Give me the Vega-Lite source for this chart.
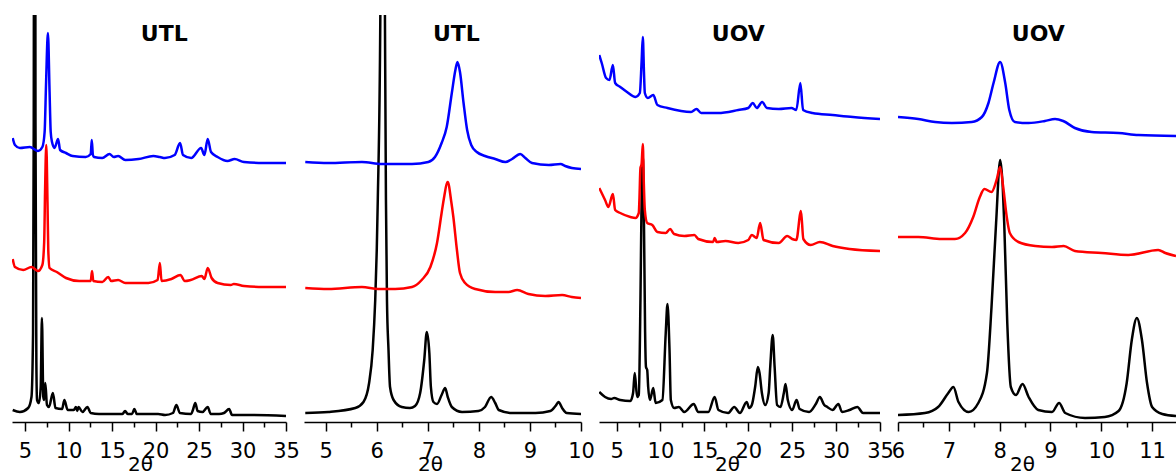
{
 "$schema": "https://vega.github.io/schema/vega-lite/v6.json",
 "padding": {"left": 12, "top": 15, "right": 0, "bottom": 0},
 "background": "white",
 "spacing": 18,
 "bounds": "flush",
 "config": {
  "view": {"stroke": null},
  "axis": {"domainColor": "#000", "domainWidth": 1.5, "tickColor": "#000", "tickWidth": 1.5, "labelFont": "DejaVu Sans", "labelFontSize": 21, "labelColor": "#000", "titleFont": "DejaVu Sans", "titleFontSize": 20, "titleFontWeight": "normal", "titleColor": "#000", "labelPadding": 9, "titlePadding": -7, "labelOverlap": false, "labelFlush": false, "labelBound": false, "grid": false, "tickSize": 9},
  "line": {"interpolate": "monotone"}
 },
 "datasets": {
  "p1": [
   {"x":3.58,"y":12,"s":"k"},{"x":4.41,"y":10,"s":"k"},{"x":5.36,"y":14,"s":"k"},{"x":5.74,"y":25,"s":"k"},{"x":5.92,"y":89,"s":"k"},{"x":6.0,"y":300,"s":"k"},{"x":6.1,"y":1200,"s":"k"},{"x":6.2,"y":300,"s":"k"},{"x":6.3,"y":60,"s":"k"},{"x":6.38,"y":22,"s":"k"},{"x":6.6,"y":19,"s":"k"},{"x":6.8,"y":35,"s":"k"},{"x":6.94,"y":104,"s":"k"},{"x":7.1,"y":25,"s":"k"},{"x":7.2,"y":22,"s":"k"},{"x":7.33,"y":39,"s":"k"},{"x":7.52,"y":17,"s":"k"},{"x":7.75,"y":15,"s":"k"},{"x":8.2,"y":29,"s":"k"},{"x":8.5,"y":14,"s":"k"},{"x":9.26,"y":13,"s":"k"},{"x":9.52,"y":22,"s":"k"},{"x":9.9,"y":12,"s":"k"},{"x":10.6,"y":12,"s":"k"},{"x":10.85,"y":15,"s":"k"},{"x":11.0,"y":11,"s":"k"},{"x":11.15,"y":15,"s":"k"},{"x":11.6,"y":10,"s":"k"},{"x":12.17,"y":15,"s":"k"},{"x":12.55,"y":9,"s":"k"},{"x":13.5,"y":8,"s":"k"},{"x":15.4,"y":8,"s":"k"},{"x":16.2,"y":8,"s":"k"},{"x":16.5,"y":11,"s":"k"},{"x":16.8,"y":8,"s":"k"},{"x":17.3,"y":8,"s":"k"},{"x":17.56,"y":13,"s":"k"},{"x":17.85,"y":8,"s":"k"},{"x":19.2,"y":8,"s":"k"},{"x":20.3,"y":8,"s":"k"},{"x":21.1,"y":7,"s":"k"},{"x":22.0,"y":9,"s":"k"},{"x":22.4,"y":17,"s":"k"},{"x":22.8,"y":9,"s":"k"},{"x":24.1,"y":8,"s":"k"},{"x":24.3,"y":12,"s":"k"},{"x":24.57,"y":19,"s":"k"},{"x":24.84,"y":11,"s":"k"},{"x":25.4,"y":10,"s":"k"},{"x":26.0,"y":15,"s":"k"},{"x":26.35,"y":8,"s":"k"},{"x":27.3,"y":8,"s":"k"},{"x":27.87,"y":9,"s":"k"},{"x":28.46,"y":13,"s":"k"},{"x":28.8,"y":7,"s":"k"},{"x":30.9,"y":7,"s":"k"},{"x":35,"y":6,"s":"k"},
   {"x":3.58,"y":163,"s":"r"},{"x":3.84,"y":155,"s":"r"},{"x":4.79,"y":152,"s":"r"},{"x":5.74,"y":155,"s":"r"},{"x":6.49,"y":151,"s":"r"},{"x":6.99,"y":157,"s":"r"},{"x":7.2,"y":180,"s":"r"},{"x":7.3,"y":230,"s":"r"},{"x":7.44,"y":277,"s":"r"},{"x":7.58,"y":220,"s":"r"},{"x":7.67,"y":172,"s":"r"},{"x":7.82,"y":154,"s":"r"},{"x":8.65,"y":150,"s":"r"},{"x":9.71,"y":144,"s":"r"},{"x":11.23,"y":141,"s":"r"},{"x":12.55,"y":141,"s":"r"},{"x":12.7,"y":151,"s":"r"},{"x":12.85,"y":141,"s":"r"},{"x":13.88,"y":140,"s":"r"},{"x":14.56,"y":145,"s":"r"},{"x":14.9,"y":141,"s":"r"},{"x":15.7,"y":142,"s":"r"},{"x":16.53,"y":139,"s":"r"},{"x":19.18,"y":139,"s":"r"},{"x":20.24,"y":142,"s":"r"},{"x":20.5,"y":159,"s":"r"},{"x":20.69,"y":141,"s":"r"},{"x":21.83,"y":143,"s":"r"},{"x":22.86,"y":147,"s":"r"},{"x":23.36,"y":141,"s":"r"},{"x":24.04,"y":142,"s":"r"},{"x":25.32,"y":146,"s":"r"},{"x":25.62,"y":143,"s":"r"},{"x":26.0,"y":154,"s":"r"},{"x":26.45,"y":144,"s":"r"},{"x":27.14,"y":139,"s":"r"},{"x":28.65,"y":137,"s":"r"},{"x":29.0,"y":138,"s":"r"},{"x":30.17,"y":136,"s":"r"},{"x":32.44,"y":135,"s":"r"},{"x":35,"y":135,"s":"r"},
   {"x":3.58,"y":284,"s":"b"},{"x":3.84,"y":277,"s":"b"},{"x":4.41,"y":274,"s":"b"},{"x":5.55,"y":275,"s":"b"},{"x":6.49,"y":271,"s":"b"},{"x":6.99,"y":275,"s":"b"},{"x":7.25,"y":290,"s":"b"},{"x":7.42,"y":340,"s":"b"},{"x":7.63,"y":389,"s":"b"},{"x":7.82,"y":330,"s":"b"},{"x":7.95,"y":290,"s":"b"},{"x":8.1,"y":280,"s":"b"},{"x":8.39,"y":274,"s":"b"},{"x":8.8,"y":283,"s":"b"},{"x":9.03,"y":272,"s":"b"},{"x":9.71,"y":269,"s":"b"},{"x":10.47,"y":266,"s":"b"},{"x":11.98,"y":265,"s":"b"},{"x":12.55,"y":268,"s":"b"},{"x":12.67,"y":282,"s":"b"},{"x":12.8,"y":267,"s":"b"},{"x":12.93,"y":265,"s":"b"},{"x":13.88,"y":264,"s":"b"},{"x":14.71,"y":268,"s":"b"},{"x":15.2,"y":265,"s":"b"},{"x":15.7,"y":266,"s":"b"},{"x":16.53,"y":262,"s":"b"},{"x":18.05,"y":263,"s":"b"},{"x":19.75,"y":266,"s":"b"},{"x":20.5,"y":265,"s":"b"},{"x":21.08,"y":264,"s":"b"},{"x":22.2,"y":267,"s":"b"},{"x":22.82,"y":279,"s":"b"},{"x":23.16,"y":267,"s":"b"},{"x":24.1,"y":264,"s":"b"},{"x":25.24,"y":274,"s":"b"},{"x":25.62,"y":267,"s":"b"},{"x":26.0,"y":283,"s":"b"},{"x":26.38,"y":270,"s":"b"},{"x":27.14,"y":265,"s":"b"},{"x":28.27,"y":261,"s":"b"},{"x":29.1,"y":263,"s":"b"},{"x":30.17,"y":260,"s":"b"},{"x":32.44,"y":259,"s":"b"},{"x":35,"y":259,"s":"b"}
  ],
  "p2": [
   {"x":4.6,"y":9,"s":"k"},{"x":5.05,"y":10,"s":"k"},{"x":5.58,"y":14,"s":"k"},{"x":5.74,"y":20,"s":"k"},{"x":5.85,"y":39,"s":"k"},{"x":5.92,"y":72,"s":"k"},{"x":5.97,"y":122,"s":"k"},{"x":6.0,"y":172,"s":"k"},{"x":6.02,"y":222,"s":"k"},{"x":6.07,"y":407,"s":"k"},{"x":6.115,"y":900,"s":"k"},{"x":6.16,"y":407,"s":"k"},{"x":6.18,"y":222,"s":"k"},{"x":6.2,"y":122,"s":"k"},{"x":6.23,"y":72,"s":"k"},{"x":6.26,"y":35,"s":"k"},{"x":6.33,"y":22,"s":"k"},{"x":6.49,"y":15,"s":"k"},{"x":6.65,"y":14,"s":"k"},{"x":6.75,"y":16,"s":"k"},{"x":6.85,"y":29,"s":"k"},{"x":6.93,"y":62,"s":"k"},{"x":6.98,"y":90,"s":"k"},{"x":7.03,"y":69,"s":"k"},{"x":7.06,"y":35,"s":"k"},{"x":7.11,"y":20,"s":"k"},{"x":7.18,"y":18,"s":"k"},{"x":7.27,"y":27,"s":"k"},{"x":7.34,"y":34,"s":"k"},{"x":7.39,"y":25,"s":"k"},{"x":7.47,"y":15,"s":"k"},{"x":7.67,"y":10,"s":"k"},{"x":7.99,"y":11,"s":"k"},{"x":8.12,"y":15,"s":"k"},{"x":8.24,"y":25,"s":"k"},{"x":8.32,"y":19,"s":"k"},{"x":8.39,"y":12,"s":"k"},{"x":8.65,"y":9,"s":"k"},{"x":9.11,"y":9,"s":"k"},{"x":9.4,"y":11,"s":"k"},{"x":9.5,"y":16,"s":"k"},{"x":9.56,"y":20,"s":"k"},{"x":9.63,"y":14,"s":"k"},{"x":9.72,"y":9,"s":"k"},{"x":10.0,"y":8,"s":"k"},
   {"x":4.6,"y":134,"s":"r"},{"x":5.05,"y":133,"s":"r"},{"x":5.71,"y":135,"s":"r"},{"x":6.03,"y":133,"s":"r"},{"x":6.36,"y":133,"s":"r"},{"x":6.69,"y":135,"s":"r"},{"x":6.88,"y":142,"s":"r"},{"x":7.05,"y":155,"s":"r"},{"x":7.18,"y":179,"s":"r"},{"x":7.27,"y":209,"s":"r"},{"x":7.31,"y":222,"s":"r"},{"x":7.39,"y":240,"s":"r"},{"x":7.46,"y":220,"s":"r"},{"x":7.5,"y":205,"s":"r"},{"x":7.57,"y":172,"s":"r"},{"x":7.63,"y":149,"s":"r"},{"x":7.73,"y":139,"s":"r"},{"x":7.93,"y":133,"s":"r"},{"x":8.32,"y":130,"s":"r"},{"x":8.58,"y":130,"s":"r"},{"x":8.75,"y":132,"s":"r"},{"x":8.97,"y":128,"s":"r"},{"x":9.3,"y":126,"s":"r"},{"x":9.63,"y":127,"s":"r"},{"x":9.82,"y":125,"s":"r"},{"x":10.0,"y":124,"s":"r"},
   {"x":4.6,"y":260,"s":"b"},{"x":5.05,"y":259,"s":"b"},{"x":5.71,"y":260,"s":"b"},{"x":6.1,"y":258,"s":"b"},{"x":6.69,"y":258,"s":"b"},{"x":7.01,"y":260,"s":"b"},{"x":7.14,"y":265,"s":"b"},{"x":7.27,"y":279,"s":"b"},{"x":7.37,"y":295,"s":"b"},{"x":7.47,"y":329,"s":"b"},{"x":7.54,"y":352,"s":"b"},{"x":7.58,"y":360,"s":"b"},{"x":7.63,"y":350,"s":"b"},{"x":7.7,"y":319,"s":"b"},{"x":7.77,"y":292,"s":"b"},{"x":7.85,"y":277,"s":"b"},{"x":7.96,"y":270,"s":"b"},{"x":8.12,"y":266,"s":"b"},{"x":8.32,"y":263,"s":"b"},{"x":8.52,"y":260,"s":"b"},{"x":8.65,"y":263,"s":"b"},{"x":8.81,"y":268,"s":"b"},{"x":8.91,"y":264,"s":"b"},{"x":9.04,"y":259,"s":"b"},{"x":9.37,"y":257,"s":"b"},{"x":9.6,"y":258,"s":"b"},{"x":9.69,"y":256,"s":"b"},{"x":9.82,"y":254,"s":"b"},{"x":10.0,"y":253,"s":"b"}
  ],
  "p3": [
   {"x":3.03,"y":30,"s":"k"},{"x":3.69,"y":25,"s":"k"},{"x":4.38,"y":23,"s":"k"},{"x":4.73,"y":24,"s":"k"},{"x":5.42,"y":22,"s":"k"},{"x":6.57,"y":21,"s":"k"},{"x":6.88,"y":29,"s":"k"},{"x":7.07,"y":49,"s":"k"},{"x":7.34,"y":25,"s":"k"},{"x":7.53,"y":27,"s":"k"},{"x":7.72,"y":122,"s":"k"},{"x":7.85,"y":222,"s":"k"},{"x":7.99,"y":265,"s":"k"},{"x":8.12,"y":200,"s":"k"},{"x":8.25,"y":90,"s":"k"},{"x":8.35,"y":55,"s":"k"},{"x":8.49,"y":52,"s":"k"},{"x":8.6,"y":35,"s":"k"},{"x":8.8,"y":22,"s":"k"},{"x":9.18,"y":34,"s":"k"},{"x":9.45,"y":19,"s":"k"},{"x":10.22,"y":22,"s":"k"},{"x":10.6,"y":89,"s":"k"},{"x":10.8,"y":118,"s":"k"},{"x":11.03,"y":72,"s":"k"},{"x":11.18,"y":22,"s":"k"},{"x":11.56,"y":14,"s":"k"},{"x":12.1,"y":15,"s":"k"},{"x":12.71,"y":10,"s":"k"},{"x":13.79,"y":18,"s":"k"},{"x":14.3,"y":10,"s":"k"},{"x":15.45,"y":10,"s":"k"},{"x":16.17,"y":25,"s":"k"},{"x":16.6,"y":12,"s":"k"},{"x":17.71,"y":9,"s":"k"},{"x":18.4,"y":15,"s":"k"},{"x":19.05,"y":9,"s":"k"},{"x":19.82,"y":20,"s":"k"},{"x":20.1,"y":14,"s":"k"},{"x":20.4,"y":17,"s":"k"},{"x":20.78,"y":35,"s":"k"},{"x":21.09,"y":55,"s":"k"},{"x":21.28,"y":49,"s":"k"},{"x":21.55,"y":29,"s":"k"},{"x":21.93,"y":17,"s":"k"},{"x":22.32,"y":29,"s":"k"},{"x":22.5,"y":55,"s":"k"},{"x":22.78,"y":87,"s":"k"},{"x":23.0,"y":55,"s":"k"},{"x":23.28,"y":17,"s":"k"},{"x":23.66,"y":15,"s":"k"},{"x":24.05,"y":29,"s":"k"},{"x":24.24,"y":38,"s":"k"},{"x":24.5,"y":22,"s":"k"},{"x":25.0,"y":12,"s":"k"},{"x":25.5,"y":22,"s":"k"},{"x":25.85,"y":13,"s":"k"},{"x":26.92,"y":10,"s":"k"},{"x":27.69,"y":18,"s":"k"},{"x":28.15,"y":25,"s":"k"},{"x":28.65,"y":17,"s":"k"},{"x":29.0,"y":15,"s":"k"},{"x":29.6,"y":12,"s":"k"},{"x":30.26,"y":18,"s":"k"},{"x":30.68,"y":10,"s":"k"},{"x":31.53,"y":12,"s":"k"},{"x":32.42,"y":15,"s":"k"},{"x":33.07,"y":9,"s":"k"},{"x":35,"y":9,"s":"k"},
   {"x":3.03,"y":234,"s":"r"},{"x":3.69,"y":222,"s":"r"},{"x":4.07,"y":215,"s":"r"},{"x":4.58,"y":228,"s":"r"},{"x":4.84,"y":212,"s":"r"},{"x":5.42,"y":209,"s":"r"},{"x":6.57,"y":205,"s":"r"},{"x":7.15,"y":204,"s":"r"},{"x":7.53,"y":209,"s":"r"},{"x":7.6,"y":222,"s":"r"},{"x":7.72,"y":254,"s":"r"},{"x":7.85,"y":258,"s":"r"},{"x":7.99,"y":278,"s":"r"},{"x":8.1,"y":240,"s":"r"},{"x":8.22,"y":212,"s":"r"},{"x":8.49,"y":199,"s":"r"},{"x":9.07,"y":197,"s":"r"},{"x":9.65,"y":190,"s":"r"},{"x":10.6,"y":189,"s":"r"},{"x":11.1,"y":193,"s":"r"},{"x":11.56,"y":188,"s":"r"},{"x":12.71,"y":186,"s":"r"},{"x":13.86,"y":187,"s":"r"},{"x":14.3,"y":183,"s":"r"},{"x":16.0,"y":180,"s":"r"},{"x":16.17,"y":184,"s":"r"},{"x":16.4,"y":180,"s":"r"},{"x":17.4,"y":181,"s":"r"},{"x":18.86,"y":179,"s":"r"},{"x":20.0,"y":182,"s":"r"},{"x":20.4,"y":187,"s":"r"},{"x":20.96,"y":184,"s":"r"},{"x":21.35,"y":199,"s":"r"},{"x":21.74,"y":182,"s":"r"},{"x":23.47,"y":179,"s":"r"},{"x":24.43,"y":186,"s":"r"},{"x":25.0,"y":183,"s":"r"},{"x":25.47,"y":182,"s":"r"},{"x":26.0,"y":211,"s":"r"},{"x":26.27,"y":183,"s":"r"},{"x":27.11,"y":177,"s":"r"},{"x":28.15,"y":180,"s":"r"},{"x":29.61,"y":176,"s":"r"},{"x":31.53,"y":173,"s":"r"},{"x":35,"y":171,"s":"r"},
   {"x":3.03,"y":367,"s":"b"},{"x":3.31,"y":359,"s":"b"},{"x":3.81,"y":344,"s":"b"},{"x":4.19,"y":342,"s":"b"},{"x":4.58,"y":357,"s":"b"},{"x":4.84,"y":339,"s":"b"},{"x":5.42,"y":335,"s":"b"},{"x":6.19,"y":330,"s":"b"},{"x":7.15,"y":325,"s":"b"},{"x":7.65,"y":329,"s":"b"},{"x":7.85,"y":360,"s":"b"},{"x":7.99,"y":385,"s":"b"},{"x":8.12,"y":350,"s":"b"},{"x":8.22,"y":329,"s":"b"},{"x":8.56,"y":324,"s":"b"},{"x":9.18,"y":327,"s":"b"},{"x":9.65,"y":317,"s":"b"},{"x":10.8,"y":314,"s":"b"},{"x":13.48,"y":310,"s":"b"},{"x":14.1,"y":313,"s":"b"},{"x":14.64,"y":309,"s":"b"},{"x":16.56,"y":309,"s":"b"},{"x":18.86,"y":312,"s":"b"},{"x":20.0,"y":314,"s":"b"},{"x":20.51,"y":319,"s":"b"},{"x":20.97,"y":314,"s":"b"},{"x":21.58,"y":320,"s":"b"},{"x":22.12,"y":314,"s":"b"},{"x":23.47,"y":313,"s":"b"},{"x":24.92,"y":314,"s":"b"},{"x":25.47,"y":312,"s":"b"},{"x":25.93,"y":339,"s":"b"},{"x":26.24,"y":312,"s":"b"},{"x":27.31,"y":309,"s":"b"},{"x":29.61,"y":307,"s":"b"},{"x":31.92,"y":305,"s":"b"},{"x":35,"y":303,"s":"b"}
  ],
  "p4": [
   {"x":6.0,"y":7,"s":"k"},{"x":6.53,"y":9,"s":"k"},{"x":6.79,"y":15,"s":"k"},{"x":6.99,"y":29,"s":"k"},{"x":7.09,"y":35,"s":"k"},{"x":7.19,"y":20,"s":"k"},{"x":7.39,"y":10,"s":"k"},{"x":7.58,"y":19,"s":"k"},{"x":7.75,"y":49,"s":"k"},{"x":7.84,"y":115,"s":"k"},{"x":7.93,"y":199,"s":"k"},{"x":8.01,"y":262,"s":"k"},{"x":8.09,"y":199,"s":"k"},{"x":8.15,"y":99,"s":"k"},{"x":8.22,"y":35,"s":"k"},{"x":8.32,"y":27,"s":"k"},{"x":8.45,"y":38,"s":"k"},{"x":8.57,"y":25,"s":"k"},{"x":8.76,"y":12,"s":"k"},{"x":9.03,"y":10,"s":"k"},{"x":9.17,"y":19,"s":"k"},{"x":9.29,"y":9,"s":"k"},{"x":9.68,"y":4,"s":"k"},{"x":10.07,"y":5,"s":"k"},{"x":10.34,"y":11,"s":"k"},{"x":10.5,"y":39,"s":"k"},{"x":10.6,"y":82,"s":"k"},{"x":10.7,"y":104,"s":"k"},{"x":10.8,"y":82,"s":"k"},{"x":10.9,"y":39,"s":"k"},{"x":11.0,"y":15,"s":"k"},{"x":11.2,"y":8,"s":"k"},{"x":11.47,"y":6,"s":"k"},
   {"x":6.0,"y":185,"s":"r"},{"x":6.4,"y":185,"s":"r"},{"x":6.86,"y":183,"s":"r"},{"x":7.12,"y":183,"s":"r"},{"x":7.32,"y":189,"s":"r"},{"x":7.48,"y":205,"s":"r"},{"x":7.61,"y":225,"s":"r"},{"x":7.7,"y":233,"s":"r"},{"x":7.84,"y":230,"s":"r"},{"x":7.94,"y":242,"s":"r"},{"x":8.01,"y":255,"s":"r"},{"x":8.07,"y":235,"s":"r"},{"x":8.14,"y":205,"s":"r"},{"x":8.2,"y":189,"s":"r"},{"x":8.37,"y":180,"s":"r"},{"x":8.7,"y":176,"s":"r"},{"x":9.03,"y":175,"s":"r"},{"x":9.26,"y":176,"s":"r"},{"x":9.48,"y":171,"s":"r"},{"x":10.01,"y":169,"s":"r"},{"x":10.53,"y":167,"s":"r"},{"x":11.12,"y":172,"s":"r"},{"x":11.26,"y":169,"s":"r"},{"x":11.47,"y":166,"s":"r"},
   {"x":6.0,"y":305,"s":"b"},{"x":6.4,"y":303,"s":"b"},{"x":6.73,"y":300,"s":"b"},{"x":7.06,"y":299,"s":"b"},{"x":7.45,"y":300,"s":"b"},{"x":7.65,"y":305,"s":"b"},{"x":7.78,"y":319,"s":"b"},{"x":7.88,"y":339,"s":"b"},{"x":8.01,"y":360,"s":"b"},{"x":8.11,"y":339,"s":"b"},{"x":8.19,"y":312,"s":"b"},{"x":8.3,"y":300,"s":"b"},{"x":8.57,"y":299,"s":"b"},{"x":8.89,"y":301,"s":"b"},{"x":9.09,"y":303,"s":"b"},{"x":9.25,"y":301,"s":"b"},{"x":9.48,"y":294,"s":"b"},{"x":9.81,"y":290,"s":"b"},{"x":10.34,"y":289,"s":"b"},{"x":10.73,"y":287,"s":"b"},{"x":11.47,"y":286,"s":"b"}
  ]
 },
 "hconcat": [
  {
   "width": 274, "height": 407,
   "resolve": {"axis": {"x": "independent"}},
   "layer": [
    {"data": {"name": "p1"}, "mark": {"type": "line", "clip": true, "strokeWidth": 2.5},
     "encoding": {
      "x": {"field": "x", "type": "quantitative", "scale": {"domain": [3.5, 35], "nice": false, "zero": false},
            "axis": {"orient": "bottom", "values": [5,10,15,20,25,30,35], "title": "2θ", "titleX": 128}},
      "y": {"field": "y", "type": "quantitative", "scale": {"domain": [0, 407], "nice": false}, "axis": null},
      "color": {"field": "s", "type": "nominal", "scale": {"domain": ["k","r","b"], "range": ["#000000","#ff0000","#0000ff"]}, "legend": null}}},
    {"data": {"name": "p1"}, "mark": {"type": "line", "clip": true, "opacity": 0, "strokeWidth": 0},
     "encoding": {
      "x": {"field": "x", "type": "quantitative", "axis": {"orient": "bottom", "values": [7.5,12.5,17.5,22.5,27.5,32.5], "labels": false, "domain": false, "tickSize": 5, "title": null}},
      "y": {"field": "y", "type": "quantitative", "axis": null},
      "detail": {"field": "s"}}},
    {"data": {"values": [{"t": "UTL"}]}, "mark": {"type": "text", "font": "DejaVu Sans", "fontSize": 22, "fontWeight": "bold", "baseline": "middle", "align": "center", "color": "#000"},
     "encoding": {"text": {"field": "t"}, "x": {"datum": 21.0, "axis": null}, "y": {"datum": 388, "axis": null}}}
   ]
  },
  {
   "width": 277, "height": 407,
   "resolve": {"axis": {"x": "independent"}},
   "layer": [
    {"data": {"name": "p2"}, "mark": {"type": "line", "clip": true, "strokeWidth": 2.5},
     "encoding": {
      "x": {"field": "x", "type": "quantitative", "scale": {"domain": [4.575, 10], "nice": false, "zero": false},
            "axis": {"orient": "bottom", "values": [5,6,7,8,9,10], "title": "2θ", "titleX": 126}},
      "y": {"field": "y", "type": "quantitative", "scale": {"domain": [0, 407], "nice": false}, "axis": null},
      "color": {"field": "s", "type": "nominal", "scale": {"domain": ["k","r","b"], "range": ["#000000","#ff0000","#0000ff"]}, "legend": null}}},
    {"data": {"name": "p2"}, "mark": {"type": "line", "clip": true, "opacity": 0, "strokeWidth": 0},
     "encoding": {
      "x": {"field": "x", "type": "quantitative", "axis": {"orient": "bottom", "values": [5.5,6.5,7.5,8.5,9.5], "labels": false, "domain": false, "tickSize": 5, "title": null}},
      "y": {"field": "y", "type": "quantitative", "axis": null},
      "detail": {"field": "s"}}},
    {"data": {"values": [{"t": "UTL"}]}, "mark": {"type": "text", "font": "DejaVu Sans", "fontSize": 22, "fontWeight": "bold", "baseline": "middle", "align": "center", "color": "#000"},
     "encoding": {"text": {"field": "t"}, "x": {"datum": 7.56, "axis": null}, "y": {"datum": 388, "axis": null}}}
   ]
  },
  {
   "width": 281, "height": 407,
   "resolve": {"axis": {"x": "independent"}},
   "layer": [
    {"data": {"name": "p3"}, "mark": {"type": "line", "clip": true, "strokeWidth": 2.5},
     "encoding": {
      "x": {"field": "x", "type": "quantitative", "scale": {"domain": [3, 35], "nice": false, "zero": false},
            "axis": {"orient": "bottom", "values": [5,10,15,20,25,30,35], "title": "2θ", "titleX": 128}},
      "y": {"field": "y", "type": "quantitative", "scale": {"domain": [0, 407], "nice": false}, "axis": null},
      "color": {"field": "s", "type": "nominal", "scale": {"domain": ["k","r","b"], "range": ["#000000","#ff0000","#0000ff"]}, "legend": null}}},
    {"data": {"name": "p3"}, "mark": {"type": "line", "clip": true, "opacity": 0, "strokeWidth": 0},
     "encoding": {
      "x": {"field": "x", "type": "quantitative", "axis": {"orient": "bottom", "values": [7.5,12.5,17.5,22.5,27.5,32.5], "labels": false, "domain": false, "tickSize": 5, "title": null}},
      "y": {"field": "y", "type": "quantitative", "axis": null},
      "detail": {"field": "s"}}},
    {"data": {"values": [{"t": "UOV"}]}, "mark": {"type": "text", "font": "DejaVu Sans", "fontSize": 22, "fontWeight": "bold", "baseline": "middle", "align": "center", "color": "#000"},
     "encoding": {"text": {"field": "t"}, "x": {"datum": 18.87, "axis": null}, "y": {"datum": 388, "axis": null}}}
   ]
  },
  {
   "width": 278, "height": 407,
   "resolve": {"axis": {"x": "independent"}},
   "layer": [
    {"data": {"name": "p4"}, "mark": {"type": "line", "clip": true, "strokeWidth": 2.5},
     "encoding": {
      "x": {"field": "x", "type": "quantitative", "scale": {"domain": [6, 11.47], "nice": false, "zero": false},
            "axis": {"orient": "bottom", "values": [6,7,8,9,10,11], "title": "2θ", "titleX": 124}},
      "y": {"field": "y", "type": "quantitative", "scale": {"domain": [0, 407], "nice": false}, "axis": null},
      "color": {"field": "s", "type": "nominal", "scale": {"domain": ["k","r","b"], "range": ["#000000","#ff0000","#0000ff"]}, "legend": null}}},
    {"data": {"name": "p4"}, "mark": {"type": "line", "clip": true, "opacity": 0, "strokeWidth": 0},
     "encoding": {
      "x": {"field": "x", "type": "quantitative", "axis": {"orient": "bottom", "values": [6.5,7.5,8.5,9.5,10.5], "labels": false, "domain": false, "tickSize": 5, "title": null}},
      "y": {"field": "y", "type": "quantitative", "axis": null},
      "detail": {"field": "s"}}},
    {"data": {"values": [{"t": "UOV"}]}, "mark": {"type": "text", "font": "DejaVu Sans", "fontSize": 22, "fontWeight": "bold", "baseline": "middle", "align": "center", "color": "#000"},
     "encoding": {"text": {"field": "t"}, "x": {"datum": 8.76, "axis": null}, "y": {"datum": 388, "axis": null}}}
   ]
  }
 ]
}
